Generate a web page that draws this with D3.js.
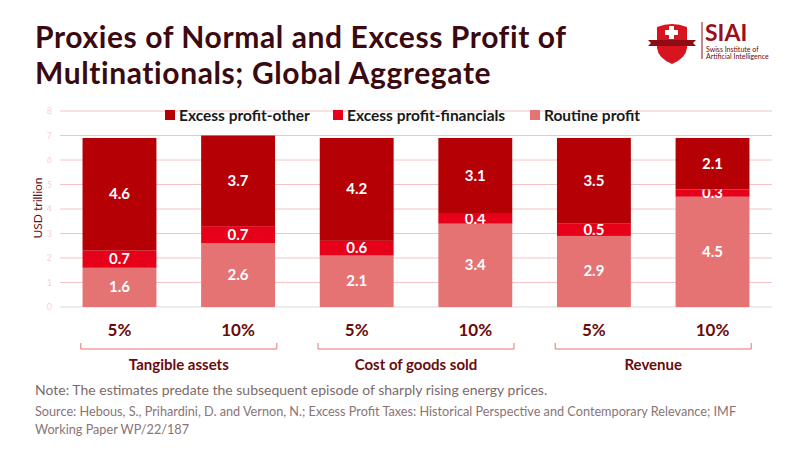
<!DOCTYPE html>
<html>
<head>
<meta charset="utf-8">
<script src="https://cdn.jsdelivr.net/npm/d3@7"></script>
<style>
  body { margin: 0; background: #fff; }
  svg text { font-family: "Lato", "Noto Sans", sans-serif; }
</style>
</head>
<body>
<div id="chart"></div>
<script>
// chart data
const groups = ["Tangible assets", "Cost of goods sold", "Revenue"];
const rates = ["5%", "10%"];
const routineProfit = [1.6, 2.6, 2.1, 3.4, 2.9, 4.5];
const excessFinancials = [0.7, 0.7, 0.6, 0.4, 0.5, 0.3];
const excessOther = [4.6, 3.7, 4.2, 3.1, 3.5, 2.1];
const yTicks = [0, 1, 2, 3, 4, 5, 6, 7, 8];
const seriesNames = ["Excess profit-other", "Excess profit-financials", "Routine profit"];

const W = 800, H = 450;
const colors = {
    "Routine profit": "#e57373",
    "Excess profit-financials": "#e60019",
    "Excess profit-other": "#b50006"
};

const svg = d3.select("#chart").append("svg")
    .attr("width", W)
    .attr("height", H);

// one row per bar
const bars = [];
groups.forEach((g, gi) => {
    rates.forEach((r, ri) => {
        const i = gi * rates.length + ri;
        bars.push({
            key: g + "|" + r, group: g, rate: r,
            "Routine profit": routineProfit[i],
            "Excess profit-financials": excessFinancials[i],
            "Excess profit-other": excessOther[i]
        });
    });
});

const x = d3.scaleBand()
    .domain(bars.map(d => d.key))
    .range([60, 772])
    .paddingInner(0.377)
    .paddingOuter(0.19);

const y = d3.scaleLinear()
    .domain([0, 8])
    .range([307, 111]);

// title
const titleLines = ["Proxies of Normal and Excess Profit of", "Multinationals; Global Aggregate"];
svg.append("g")
    .selectAll("text")
    .data(titleLines)
    .join("text")
    .attr("x", 35)
    .attr("y", (d, i) => 48 + i * 36)
    .style("font-size", "30px").style("font-weight", 700)
    .style("letter-spacing", "0.6px")
    .style("fill", "#3b0a10")
    .text(d => d);

// gridlines + tick labels
svg.append("g")
    .selectAll("line")
    .data(yTicks.filter(t => t > 0))
    .join("line")
    .attr("x1", 60).attr("x2", 772)
    .attr("y1", d => y(d)).attr("y2", d => y(d))
    .attr("stroke", "#f4c4c4").attr("stroke-width", 1);

svg.append("line")
    .attr("x1", 60).attr("x2", 772)
    .attr("y1", y(0)).attr("y2", y(0))
    .attr("stroke", "#d9d9d9").attr("stroke-width", 1);

svg.append("g")
    .selectAll("text")
    .data(yTicks)
    .join("text")
    .attr("x", 52)
    .attr("y", d => y(d) + 3)
    .attr("text-anchor", "end")
    .style("font-size", "9px")
    .style("fill", "#f6d2d2")
    .text(d => d);

// y axis title
svg.append("text")
    .attr("transform", `translate(42, ${208}) rotate(-90)`)
    .attr("text-anchor", "middle")
    .style("font-size", "12px")
    .style("fill", "#6b0f1a")
    .text("USD trillion");

// stacked bars
const stack = d3.stack().keys(["Routine profit", "Excess profit-financials", "Excess profit-other"]);
const layers = stack(bars);

const layerG = svg.append("g")
    .selectAll("g")
    .data(layers)
    .join("g")
    .attr("fill", d => colors[d.key]);

layerG.selectAll("rect")
    .data(d => d)
    .join("rect")
    .attr("x", d => x(d.data.key))
    .attr("width", x.bandwidth())
    .attr("y", d => y(d[1]))
    .attr("height", d => y(d[0]) - y(d[1]));

layerG.selectAll("text")
    .data(d => d)
    .join("text")
    .attr("x", d => x(d.data.key) + x.bandwidth() / 2)
    .attr("y", d => (y(d[0]) + y(d[1])) / 2 + 5)
    .attr("text-anchor", "middle")
    .style("font-size", "15px")
    .style("font-weight", 700)
    .style("fill", "#fff")
    .text(d => d3.format(".1f")(d[1] - d[0]));

// rate labels
svg.append("g")
    .selectAll("text")
    .data(bars)
    .join("text")
    .attr("x", d => x(d.key) + x.bandwidth() / 2)
    .attr("y", 336)
    .attr("text-anchor", "middle")
    .style("font-size", "17px")
    .style("font-weight", 700)
    .style("fill", "#6b0a0a")
    .text(d => d.rate);

// group brackets + labels
const groupCenter = g => {
    const ks = bars.filter(b => b.group === g).map(b => b.key);
    return (x(ks[0]) + x(ks[ks.length - 1]) + x.bandwidth()) / 2;
};
const bracketHalf = 98;
const brackets = svg.append("g")
    .selectAll("g")
    .data(groups)
    .join("g");
brackets.append("path")
    .attr("d", g => {
        const c = groupCenter(g);
        return `M${c - bracketHalf},343 V349 H${c + bracketHalf} V343`;
    })
    .attr("fill", "none")
    .attr("stroke", "#e57373")
    .attr("stroke-width", 1);
brackets.append("text")
    .attr("x", g => groupCenter(g))
    .attr("y", 370)
    .attr("text-anchor", "middle")
    .style("font-size", "15px")
    .style("font-weight", 700)
    .style("fill", "#6b0a0a")
    .text(g => g);

// legend
const legendX = [165, 333, 530];
const legend = svg.append("g")
    .selectAll("g")
    .data(seriesNames)
    .join("g")
    .attr("transform", (d, i) => `translate(${legendX[i]}, 115)`);
legend.append("rect")
    .attr("x", 0).attr("y", -5)
    .attr("width", 10).attr("height", 10)
    .attr("fill", d => colors[d]);
legend.append("text")
    .attr("x", 14).attr("y", 5.5)
    .style("font-size", "15.5px")
    .style("font-weight", 700)
    .style("fill", "#1a1a1a")
    .text(d => d);

// footnotes
svg.append("text")
    .attr("x", 35).attr("y", 395)
    .style("font-size", "14px")
    .style("fill", "#7d6a6a")
    .text("Note: The estimates predate the subsequent episode of sharply rising energy prices.");
svg.append("text")
    .attr("x", 35).attr("y", 416)
    .style("font-size", "12.7px")
    .style("fill", "#8a7474")
    .text("Source: Hebous, S., Prihardini, D. and Vernon, N.; Excess Profit Taxes: Historical Perspective and Contemporary Relevance; IMF");
svg.append("text")
    .attr("x", 35).attr("y", 434)
    .style("font-size", "12.7px")
    .style("fill", "#8a7474")
    .text("Working Paper WP/22/187");

// logo
const logo = svg.append("g");
logo.append("path")
    .attr("d", "M657,27 Q672,21 687,27 L687,48 Q686,58 672,64 Q658,58 657,48 Z")
    .attr("fill", "#d7141f");
logo.append("path")
    .attr("d", "M648,40 H696 L693,43 L696,46 H648 L651,43 Z")
    .attr("fill", "#8e0c14");
logo.append("rect").attr("x", 669).attr("y", 26).attr("width", 5).attr("height", 13).attr("fill", "#fff");
logo.append("rect").attr("x", 665).attr("y", 30).attr("width", 13).attr("height", 5).attr("fill", "#fff");
logo.append("line")
    .attr("x1", 702).attr("x2", 702).attr("y1", 22).attr("y2", 59)
    .attr("stroke", "#8e0c14").attr("stroke-width", 1);
logo.append("text")
    .attr("x", 705).attr("y", 41)
    .style("font-size", "23px").style("font-weight", 700)
    .style("fill", "#9b0f1c")
    .text("SIAI");
logo.append("text")
    .attr("x", 706).attr("y", 52)
    .style("font-size", "7px")
    .style("fill", "#6b0a0a")
    .text("Swiss Institute of");
logo.append("text")
    .attr("x", 706).attr("y", 59)
    .style("font-size", "7px")
    .style("fill", "#6b0a0a")
    .text("Artificial Intelligence");
</script>
</body>
</html>
